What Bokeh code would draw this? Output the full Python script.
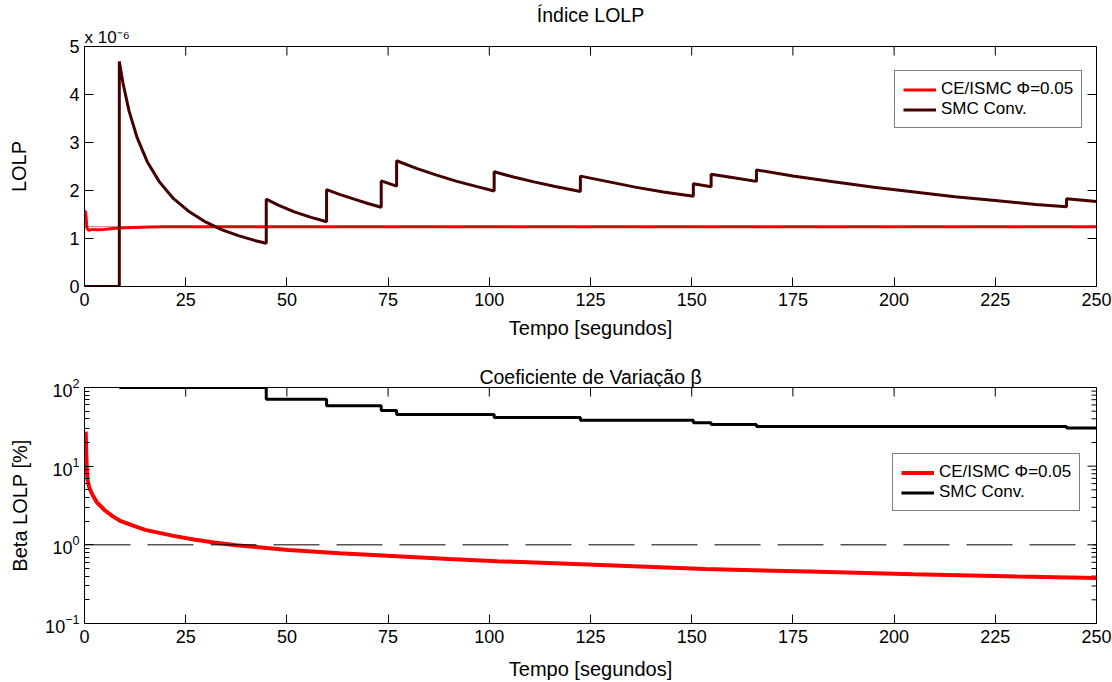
import math
from bokeh.plotting import figure
from bokeh.layouts import column
from bokeh.models import Range1d, Span, Title, FixedTicker, Legend, LegendItem
from bokeh.embed import file_html
from bokeh.resources import INLINE

FONT = "Liberation Sans"

# ---------------- data ----------------
x_ticks = [0, 25, 50, 75, 100, 125, 150, 175, 200, 225, 250]
y_ticks_top = [0, 1, 2, 3, 4, 5]
y_ticks_log = [0.1, 1, 10, 100]
y_minor_log = [0.2, 0.3, 0.4, 0.5, 0.6, 0.7, 0.8, 0.9,
               2, 3, 4, 5, 6, 7, 8, 9,
               20, 30, 40, 50, 60, 70, 80, 90]

# Top panel: LOLP (units of 1e-6)
smc_t = [0, 8.6, 8.6, 9.5, 11, 13, 15.5, 18.5, 22, 26, 30, 34, 38, 42, 44.9,
         44.9, 48, 52, 56, 59.8,
         59.8, 63, 67, 70, 73.3,
         73.3, 77.1,
         77.1, 82, 87, 92, 97, 101.2,
         101.2, 106, 111, 116, 122.5,
         122.5, 129, 136, 143, 150.4,
         150.4, 154.8,
         154.8, 160, 166,
         166, 175, 185, 195, 205, 215, 225, 235, 242.6,
         242.6, 250]
smc_lolp = [0, 0, 4.69, 4.24, 3.66, 3.10, 2.60, 2.18, 1.83, 1.55, 1.34, 1.18, 1.06, 0.96, 0.90,
            1.82, 1.69, 1.55, 1.44, 1.35,
            2.02, 1.92, 1.81, 1.73, 1.65,
            2.20, 2.09,
            2.62, 2.46, 2.32, 2.19, 2.08, 1.99,
            2.39, 2.28, 2.18, 2.09, 1.98,
            2.30, 2.19, 2.07, 1.97, 1.88,
            2.14, 2.08,
            2.34, 2.27, 2.19,
            2.43, 2.30, 2.18, 2.07, 1.97, 1.87, 1.79, 1.71, 1.66,
            1.83, 1.77]

ce_t = [0, 0.3, 0.6, 1, 2, 3, 5, 7, 9, 12, 16, 20, 30, 50, 80, 100, 150, 200, 250]
ce_lolp = [1.58, 1.55, 1.22, 1.17, 1.19, 1.18, 1.19, 1.21, 1.22, 1.23, 1.24, 1.245, 1.245,
           1.245, 1.245, 1.245, 1.245, 1.245, 1.245]
lolp_target = 1.245

# Bottom panel: coefficient of variation beta [%]
smc_beta_t = [8.6, 44.9, 44.9, 59.8, 59.8, 73.3, 73.3, 77.1, 77.1, 101.2, 101.2, 122.5, 122.5,
              150.4, 150.4, 154.8, 154.8, 166, 166, 242.6, 242.6, 250]
smc_beta = [100, 100, 71, 71, 58.5, 58.5, 51, 51, 45.5, 45.5, 41.5, 41.5, 38.3,
            38.3, 35.7, 35.7, 33.8, 33.8, 32, 32, 30.5, 30.5]

ce_beta_t = [0.3, 0.45, 0.6, 0.8, 1.2, 2, 3, 5, 7, 9, 12, 15, 18.5, 22, 27, 32, 37.5, 45, 50.4,
             63, 76, 90, 101.9, 127.6, 153.3, 179, 204.7, 230.4, 250]
ce_beta = [27.5, 14, 8.5, 6.5, 5.3, 4.3, 3.5, 2.75, 2.3, 2.0, 1.75, 1.55, 1.42, 1.3, 1.17, 1.07,
           0.99, 0.91, 0.86, 0.78, 0.72, 0.66, 0.62, 0.555, 0.494, 0.457, 0.424, 0.396, 0.378]

beta_ref = 1.0

RED = "#ff0000"
MAROON = "#440000"
X1 = 250


def base_style(p):
    p.background_fill_color = "white"
    p.border_fill_color = "white"
    p.outline_line_color = "black"
    p.outline_line_width = 1
    p.xgrid.visible = False
    p.ygrid.visible = False
    for ax in [p.xaxis[0], p.yaxis[0]]:
        ax.axis_line_color = "black"
        ax.major_tick_in = 9
        ax.major_tick_out = 0
        ax.minor_tick_in = 0
        ax.minor_tick_out = 0
        ax.major_tick_line_color = "black"
        ax.major_label_text_font = FONT
        ax.major_label_text_font_size = "18px"
        ax.major_label_text_color = "black"
        ax.axis_label_text_font = FONT
        ax.axis_label_text_font_size = "20px"
        ax.axis_label_text_font_style = "normal"
        ax.axis_label_text_color = "black"


def make_title(text, size, align, standoff):
    return Title(text=text, text_font=FONT, text_font_size=size, text_font_style="normal",
                 text_color="black", align=align, standoff=standoff)


def mirror_ticks(p, xt, ytop, yt, xright, size, ys_minor=None):
    # tick marks on top and right edges (MATLAB box style), half clipped by the frame
    p.scatter(xt, [ytop] * len(xt), marker="dash", angle=math.pi / 2, size=size,
              line_color="black", line_width=1)
    p.scatter([xright] * len(yt), yt, marker="dash", size=size,
              line_color="black", line_width=1)
    if ys_minor:
        p.scatter([xright] * len(ys_minor), ys_minor, marker="dash", size=10,
                  line_color="black", line_width=1)


# ---------------- top figure ----------------
p1 = figure(width=1112, height=345, min_border_left=84, min_border_right=16,
            min_border_top=46, min_border_bottom=59,
            x_range=Range1d(0, 250), y_range=Range1d(0, 5),
            title=None, output_backend="svg", toolbar_location=None)
base_style(p1)
p1.add_layout(make_title("x 10⁻⁶", "17px", "left", 0), "above")
p1.add_layout(make_title("Índice LOLP", "19.5px", "center", 0), "above")
p1.xaxis.ticker = FixedTicker(ticks=x_ticks)
p1.yaxis.ticker = FixedTicker(ticks=y_ticks_top)
p1.xaxis.axis_label = "Tempo [segundos]"
p1.yaxis.axis_label = "LOLP"
p1.xaxis.major_label_standoff = 6
p1.xaxis.axis_label_standoff = 8
p1.yaxis.major_label_standoff = 5
p1.yaxis.axis_label_standoff = 36

mirror_ticks(p1, x_ticks, 5, y_ticks_top, X1, 18)

r_ce1 = p1.line(ce_t, ce_lolp, line_color=RED, line_width=3)
r_smc1 = p1.line(smc_t, smc_lolp, line_color=MAROON, line_width=3)
p1.add_layout(Span(location=lolp_target, dimension="width", line_color="#a00000",
                   line_alpha=0.55, line_width=1, line_dash="46 17"))

leg1 = Legend(items=[LegendItem(label="CE/ISMC Φ=0.05", renderers=[r_ce1]),
                     LegendItem(label="SMC Conv.", renderers=[r_smc1])],
              location=(810, 158))
p1.add_layout(leg1)

# ---------------- bottom figure ----------------
p2 = figure(width=1112, height=337, min_border_left=84, min_border_right=16,
            min_border_top=42, min_border_bottom=56,
            x_range=Range1d(0, 250), y_range=Range1d(0.1, 100), y_axis_type="log",
            title=None, output_backend="svg", toolbar_location=None)
base_style(p2)
p2.add_layout(make_title("Coeficiente de Variação β", "19.5px", "center", 0), "above")
p2.xaxis.ticker = FixedTicker(ticks=x_ticks)
p2.xaxis.axis_label = "Tempo [segundos]"
p2.yaxis.axis_label = "Beta LOLP [%]"
p2.yaxis.minor_tick_in = 5
p2.yaxis.minor_tick_line_color = "black"
p2.xaxis.major_label_standoff = 6
p2.xaxis.axis_label_standoff = 12
p2.yaxis.major_label_standoff = 5
p2.yaxis.axis_label_standoff = 11

mirror_ticks(p2, x_ticks, 100, y_ticks_log, X1, 18, y_minor_log)

p2.add_layout(Span(location=beta_ref, dimension="width", line_color="black",
                   line_width=1, line_dash="46 17"))

r_ce2 = p2.line(ce_beta_t, ce_beta, line_color=RED, line_width=4)
r_smc2 = p2.line(smc_beta_t, smc_beta, line_color="black", line_width=3)

leg2 = Legend(items=[LegendItem(label="CE/ISMC Φ=0.05", renderers=[r_ce2]),
                     LegendItem(label="SMC Conv.", renderers=[r_smc2])],
              location=(808, 112))
p2.add_layout(leg2)

for lg in [leg1, leg2]:
    lg.label_text_font = FONT
    lg.label_text_font_size = "17px"
    lg.label_text_color = "black"
    lg.border_line_color = "black"
    lg.border_line_width = 1
    lg.background_fill_color = "white"
    lg.background_fill_alpha = 1
    lg.glyph_width = 33
    lg.glyph_height = 17
    lg.label_height = 17
    lg.label_standoff = 5
    lg.padding = 8
    lg.spacing = 0
    lg.margin = 0

layout = column(p1, p2, spacing=0)
open("out.html", "w").write(file_html(layout, INLINE))
